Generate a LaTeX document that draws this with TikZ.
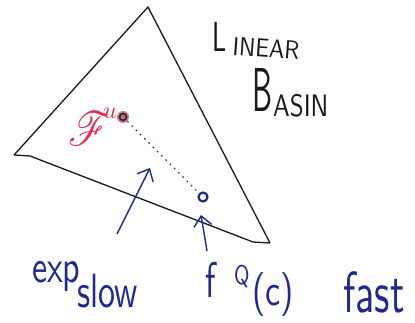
\documentclass[tikz,border=0pt]{standalone}
\usepackage{mathrsfs}
\usetikzlibrary{arrows.meta}
\definecolor{pen}{RGB}{30,40,145}
\definecolor{redpen}{RGB}{225,45,80}
\definecolor{ink}{RGB}{25,25,25}
\tikzset{
  edge/.style={line width=1.3pt, ink},
  bluearrow/.style={line width=1.4pt, pen, -{Straight Barb[length=10pt,width=18pt,line width=1.4pt]}},
  hand/.style={pen, inner sep=0pt, font=\sffamily},
  title/.style={ink, inner sep=0pt, font=\sffamily},
}
\begin{document}
\begin{tikzpicture}[x=1pt,y=-1pt]
\useasboundingbox (0,0) rectangle (415,323);
% triangle
\coordinate (T) at (148,7);
\coordinate (L) at (14,155);
\coordinate (R) at (270,243);
\draw[edge, line join=round] (L) -- (T) -- (R);
\draw[edge] (L) -- (30,156) -- (253,242) -- (R);
% dots
\node[circle, fill=redpen!70, minimum size=12pt, inner sep=0pt] (fu) at (123,117) {};
\node[circle, draw=black!85, line width=1.6pt, fill=black!45, minimum size=7pt, inner sep=0pt] at (fu) {};
\node[circle, draw=pen, line width=2.2pt, minimum size=9pt, inner sep=0pt] (fq) at (203,197) {};
\draw[pen, line width=1.3pt, dash pattern=on 1.5pt off 4.5pt] (fu) -- (fq);
% red label
\node[redpen, anchor=south west, inner sep=0pt] (flab) at (68,146) {\scalebox{4}[4.8]{$\mathscr{F}$}};
\node[redpen, anchor=south west, inner sep=0pt] (ulab) at (103,119) {\scalebox{2.4}{$u$}};
% arrows
\coordinate (a1s) at (117,234);
\coordinate (a1e) at (150,168);
\coordinate (a2s) at (207,251);
\coordinate (a2e) at (201,215);
\draw[bluearrow] (a1s) -- (a1e);
\draw[bluearrow] (a2s) -- (a2e);
% title
\node[title, anchor=base west] (linL) at (212,52) {\scalebox{2.6}[4.2]{L}};
\node[title, anchor=base west, rotate=-4] (linR) at (232,55) {\scalebox{2.3}[2.6]{INEAR}};
\node[title, anchor=base west] (basB) at (252,112) {\scalebox{3.0}[6.2]{B}};
\node[title, anchor=base west] (basR) at (273,117) {\scalebox{2.5}[3.1]{ASIN}};
% bottom labels
\node[hand, anchor=base west] (exp) at (32,282) {\scalebox{3.4}[4.6]{exp}\kern-3pt\raisebox{-25pt}{\scalebox{3.4}[4.8]{slow}}};
\node[hand, anchor=base west] (fqf) at (205,297) {\scalebox{3.4}[5.0]{f}};
\node[hand, anchor=base west] (fqq) at (234,284) {\scalebox{2.1}[2.7]{Q}};
\node[hand, anchor=base west] (fqc) at (252,305) {\scalebox{3.4}[4.4]{(c)}};
\node[hand, anchor=base west] (fast) at (343,312) {\scalebox{4.0}[5.8]{fast}};
\end{tikzpicture}
\end{document}
